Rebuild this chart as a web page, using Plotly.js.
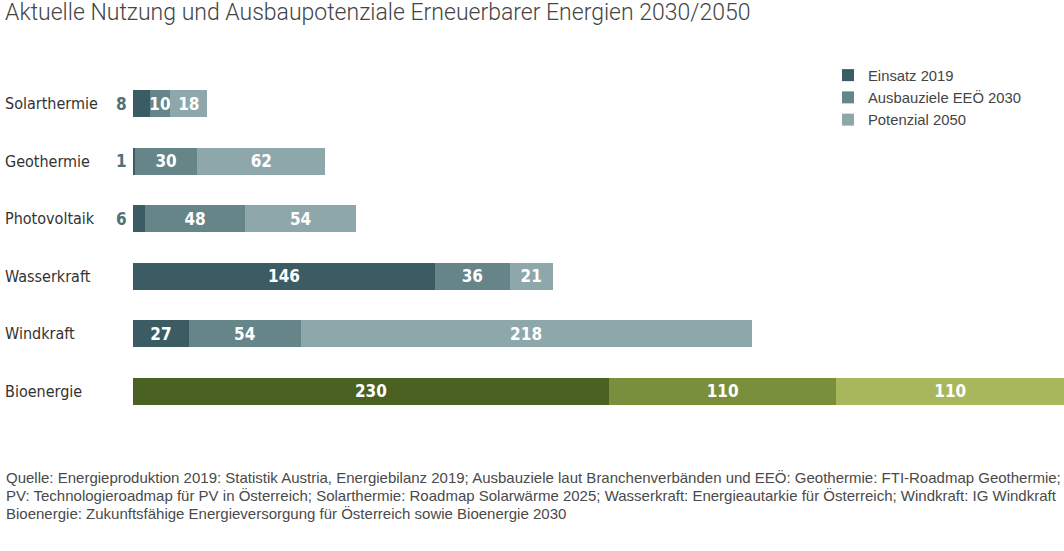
<!DOCTYPE html>
<html>
<head>
<meta charset="utf-8">
<script src="https://cdn.plot.ly/plotly-3.0.1.min.js"></script>
<style>html,body{margin:0;padding:0;background:#fff;}#chart{width:1064px;height:551px;}</style>
</head>
<body>
<div id="chart"></div>
<script>
const categories = ["Solarthermie", "Geothermie", "Photovoltaik", "Wasserkraft", "Windkraft", "Bioenergie"];
const einsatz2019 = [8, 1, 6, 146, 27, 230];
const ausbau2030 = [10, 30, 48, 36, 54, 110];
const potenzial2050 = [18, 62, 54, 21, 218, 110];
const seriesNames = ["Einsatz 2019", "Ausbauziele EEÖ 2030", "Potenzial 2050"];
const title = "Aktuelle Nutzung und Ausbaupotenziale Erneuerbarer Energien 2030/2050";
const sourceLines = [
  "Quelle: Energieproduktion 2019: Statistik Austria, Energiebilanz 2019; Ausbauziele laut Branchenverbänden und EEÖ: Geothermie: FTI-Roadmap Geothermie;",
  "PV: Technologieroadmap für PV in Österreich; Solarthermie: Roadmap Solarwärme 2025; Wasserkraft: Energieautarkie für Österreich; Windkraft: IG Windkraft",
  "Bioenergie: Zukunftsfähige Energieversorgung für Österreich sowie Bioenergie 2030"
];

const tealColors = ["#3c5c63", "#658589", "#8ea7ab"];
const greenColors = ["#4b6123", "#7a8f3c", "#a8b75c"];
const outsideColor = "#4f7279";
const narrow = "DejaVu Sans Condensed, DejaVu Sans, sans-serif";
const sans = "Liberation Sans, Arial, sans-serif";

const series = [einsatz2019, ausbau2030, potenzial2050];
const minInside = 10;

const traces = series.map((vals, s) => ({
  type: "bar",
  orientation: "h",
  name: seriesNames[s],
  y: categories,
  x: vals,
  width: 0.47,
  marker: {color: categories.map(c => c === "Bioenergie" ? greenColors[s] : tealColors[s]), line: {width: 0}},
  text: vals.map(v => v >= minInside ? String(v) : ""),
  textposition: "inside",
  insidetextanchor: "middle",
  textangle: 0,
  constraintext: "none",
  textfont: {family: narrow, size: 17, color: "#ffffff", weight: 700, stretch: "condensed"},
  hoverinfo: "x+name"
}));

const plotLeft = 133, plotWidth = 931, plotTop = 75, plotHeight = 345;
const px2paperX = p => (p - plotLeft) / plotWidth;
const px2paperY = p => (plotTop + plotHeight - p) / plotHeight;

const annotations = [];
categories.forEach((c, i) => {
  annotations.push({
    xref: "paper", yref: "y", x: px2paperX(3), y: c, xanchor: "left", yanchor: "middle",
    text: c, showarrow: false, font: {family: narrow, size: 16, color: "#333333", stretch: "condensed"}
  });
  if (einsatz2019[i] < minInside) {
    annotations.push({
      xref: "x", yref: "y", x: 0, y: c, xanchor: "right", yanchor: "middle", xshift: -4,
      text: String(einsatz2019[i]), showarrow: false,
      font: {family: narrow, size: 17, color: outsideColor, weight: 700, stretch: "condensed"}
    });
  }
});
sourceLines.forEach((line, k) => {
  annotations.push({
    xref: "paper", yref: "paper", x: px2paperX(4), y: px2paperY(477 + k * 18), xanchor: "left", yanchor: "middle",
    align: "left", text: line, showarrow: false,
    font: {family: sans, size: 15, color: "#4a4a4a"}
  });
});

const layout = {
  width: 1064, height: 551,
  margin: {l: plotLeft, r: 1064 - plotLeft - plotWidth, t: plotTop, b: 551 - plotTop - plotHeight, pad: 0},
  paper_bgcolor: "#ffffff", plot_bgcolor: "#ffffff",
  barmode: "stack",
  showlegend: true,
  title: {
    text: title, xref: "container", yref: "container", x: 5 / 1064, xanchor: "left",
    y: 1 - 12 / 551, yanchor: "middle",
    font: {family: "Roboto, Liberation Sans, sans-serif", size: 23, color: "#444444", weight: 300}
  },
  xaxis: {range: [0, 450], visible: false, fixedrange: true},
  yaxis: {categoryorder: "array", categoryarray: categories, autorange: "reversed", showticklabels: false,
          showgrid: false, zeroline: false, showline: false, ticks: "", fixedrange: true},
  legend: {
    x: px2paperX(828), y: px2paperY(59), xanchor: "left", yanchor: "top",
    traceorder: "normal", bgcolor: "rgba(0,0,0,0)",
    font: {family: sans, size: 14.8, color: "#444444"},
    itemclick: false, itemdoubleclick: false
  },
  annotations: annotations
};

Plotly.newPlot("chart", traces, layout, {displayModeBar: false, staticPlot: true});
</script>
</body>
</html>
